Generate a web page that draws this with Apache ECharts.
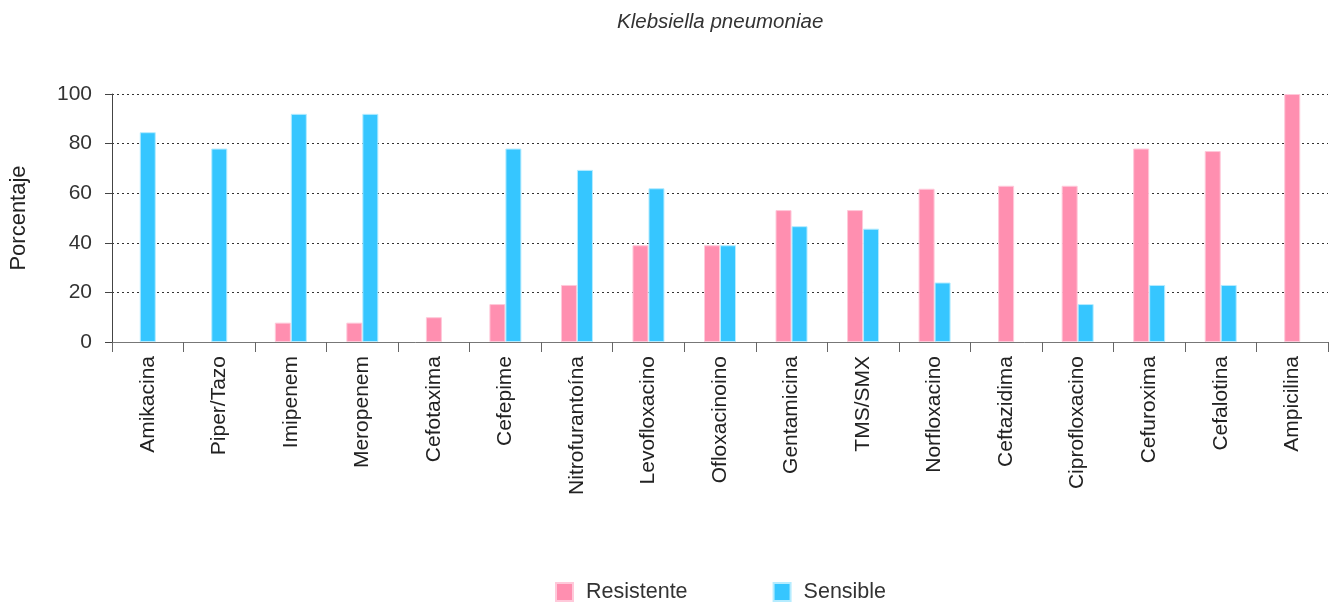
<!DOCTYPE html>
<html>
<head>
<meta charset="utf-8">
<script src="https://cdn.jsdelivr.net/npm/echarts@6/dist/echarts.min.js"></script>
<style>
  html, body { margin: 0; padding: 0; background: #fff; }
  #chart { width: 1330px; height: 602px; }
</style>
</head>
<body>
<div id="chart"></div>
<script>
// categorias (antibioticos)
var antibioticos = ['Amikacina', 'Piper/Tazo', 'Imipenem', 'Meropenem', 'Cefotaxima', 'Cefepime',
  'Nitrofurantoína', 'Levofloxacino', 'Ofloxacinoino', 'Gentamicina', 'TMS/SMX', 'Norfloxacino',
  'Ceftazidima', 'Ciprofloxacino', 'Cefuroxima', 'Cefalotina', 'Ampicilina'];
var resistente = [0, 0, 7.8, 7.8, 10, 15.3, 23, 39, 39, 53.2, 53.2, 61.8, 63, 63, 78, 77, 100];
var sensible = [84.6, 78, 92, 92, 0, 78, 69.4, 62, 39, 46.7, 45.7, 24, 0, 15.3, 23, 23, 0];
var yTicks = [0, 20, 40, 60, 80, 100];

var ROSA = '#ff8fb0';
var AZUL = '#36c6ff';
var FONT = 'Liberation Sans, Arial, sans-serif';

// barras en pareja (las dos existen) y barras solas (centradas en la categoria)
var pairR = resistente.map(function (v, i) { return v > 0 && sensible[i] > 0 ? v : '-'; });
var pairS = sensible.map(function (v, i) { return v > 0 && resistente[i] > 0 ? v : '-'; });
var soloR = resistente.map(function (v, i) { return v > 0 && !(sensible[i] > 0) ? v : '-'; });
var soloS = sensible.map(function (v, i) { return v > 0 && !(resistente[i] > 0) ? v : '-'; });

var chart = echarts.init(document.getElementById('chart'));

var option = {
  animation: false,
  textStyle: { fontFamily: FONT },
  title: {
    text: 'Klebsiella pneumoniae',
    left: 612,
    top: 7,
    textStyle: { fontSize: 20.5, fontStyle: 'italic', fontWeight: 'normal', color: '#333', fontFamily: FONT }
  },
  legend: {
    data: ['Resistente', 'Sensible'],
    top: 576,
    left: 550,
    icon: 'rect',
    itemWidth: 17,
    itemHeight: 18,
    itemGap: 85,
    textStyle: { fontSize: 21.5, color: '#333', padding: [0, 0, 0, 8], fontFamily: FONT }
  },
  grid: { left: 112, right: 2, top: 94, bottom: 260, containLabel: false },
  xAxis: [
    {
      type: 'category',
      data: antibioticos,
      axisLine: { lineStyle: { color: '#777', width: 1 } },
      axisTick: { show: true, length: 10, lineStyle: { color: '#666' } },
      axisLabel: { rotate: 90, margin: 14, fontSize: 21, color: '#222', fontFamily: FONT, interval: 0 }
    },
    {
      type: 'category',
      data: antibioticos,
      show: false
    }
  ],
  yAxis: {
    type: 'value',
    min: yTicks[0],
    max: yTicks[yTicks.length - 1],
    interval: 20,
    name: 'Porcentaje',
    nameLocation: 'middle',
    nameGap: 82,
    nameRotate: 90,
    nameTextStyle: { fontSize: 22, color: '#222', fontFamily: FONT },
    axisLine: { show: true, lineStyle: { color: '#444' } },
    axisTick: { show: true, length: 7, lineStyle: { color: '#444' } },
    axisLabel: { margin: 20, fontSize: 21, color: '#333', fontFamily: FONT },
    splitLine: { show: true, lineStyle: { type: [2, 3], color: '#333', width: 1 } }
  },
  series: [
    {
      name: 'Resistente', type: 'bar', xAxisIndex: 0, data: pairR,
      barWidth: 16, barGap: 0,
      itemStyle: { color: ROSA, borderColor: '#ffc9da', borderWidth: 1 }
    },
    {
      name: 'Sensible', type: 'bar', xAxisIndex: 0, data: pairS,
      barWidth: 16, barGap: 0,
      itemStyle: { color: AZUL, borderColor: '#b5ecff', borderWidth: 1 }
    },
    {
      name: 'Resistente', type: 'bar', xAxisIndex: 1, data: soloR,
      barWidth: 16, barGap: '-100%',
      itemStyle: { color: ROSA, borderColor: '#ffc9da', borderWidth: 1 }
    },
    {
      name: 'Sensible', type: 'bar', xAxisIndex: 1, data: soloS,
      barWidth: 16, barGap: '-100%',
      itemStyle: { color: AZUL, borderColor: '#b5ecff', borderWidth: 1 }
    }
  ]
};

chart.setOption(option);
</script>
</body>
</html>
